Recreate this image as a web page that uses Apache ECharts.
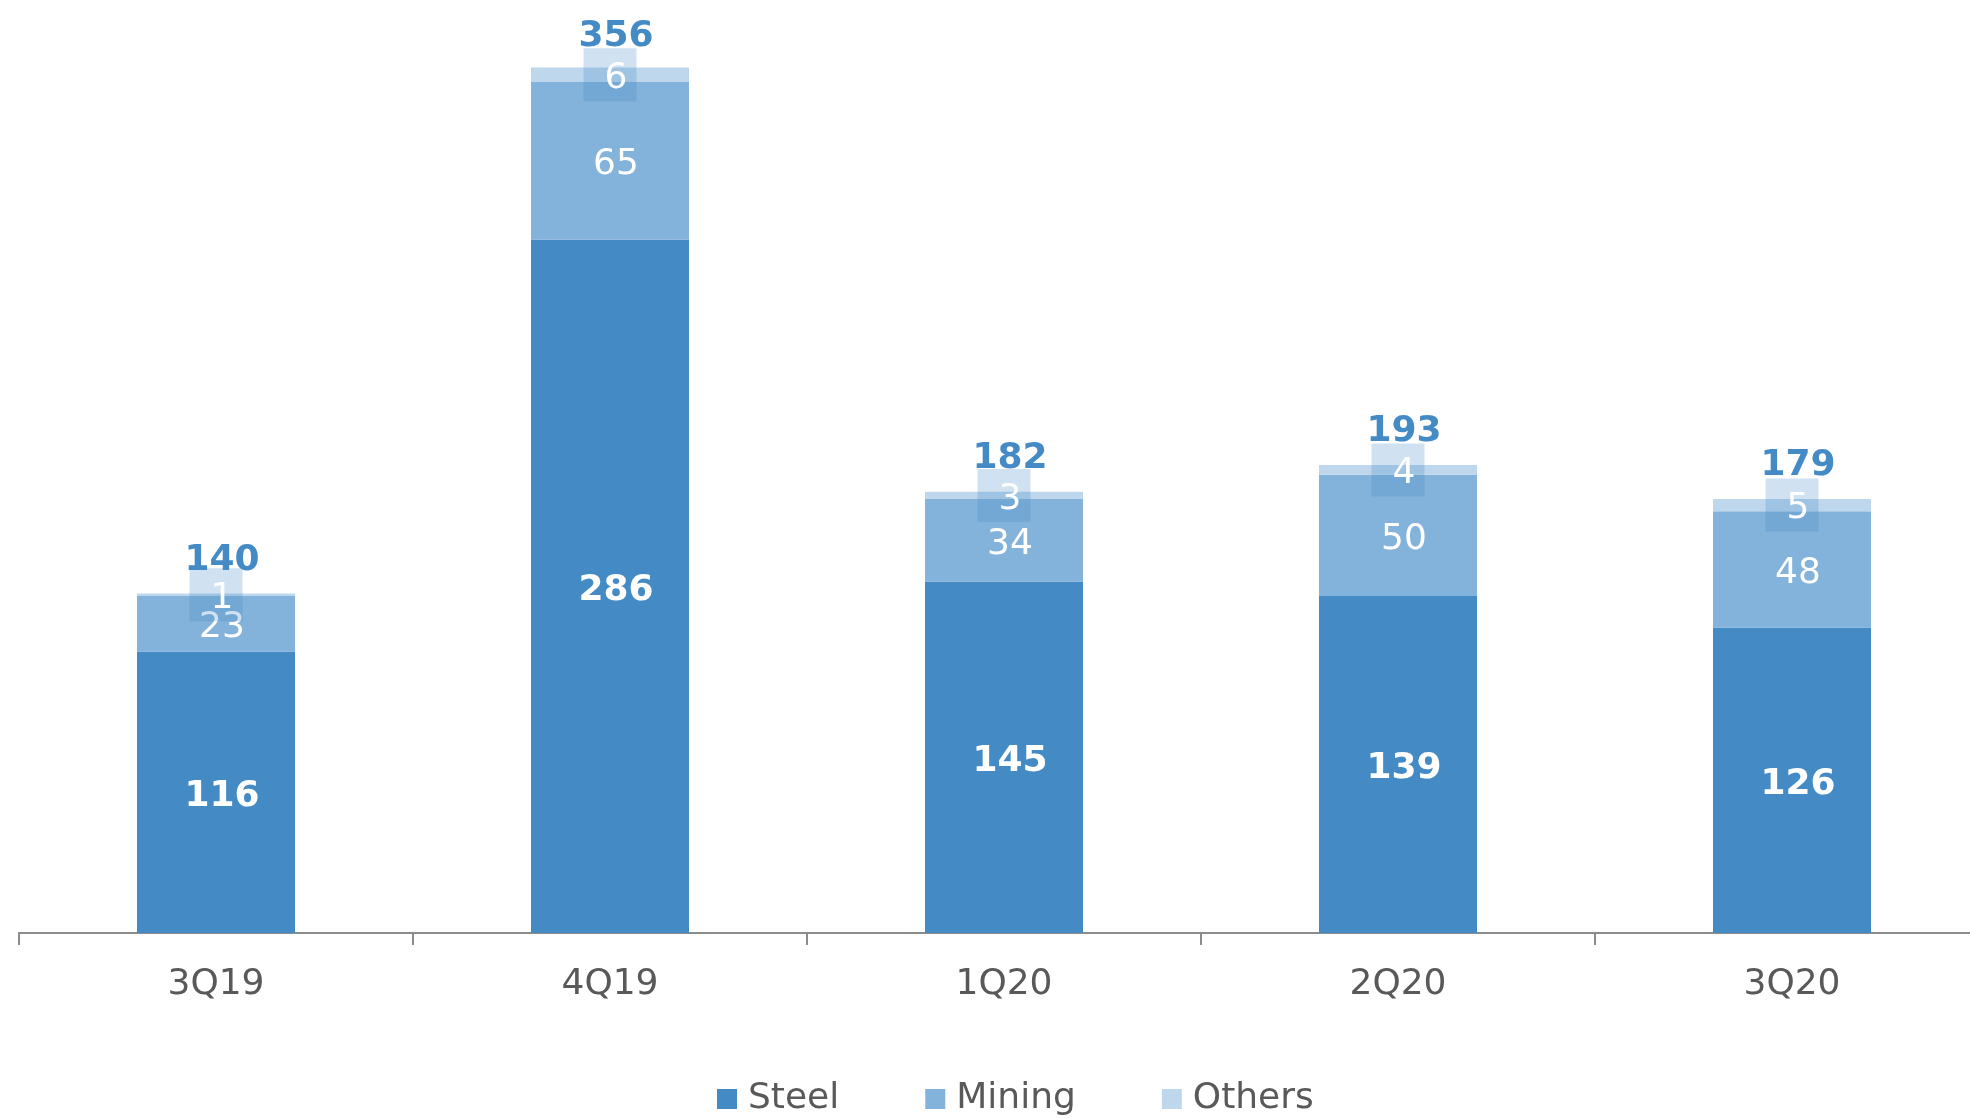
<!DOCTYPE html>
<html>
<head>
<meta charset="utf-8">
<script src="https://cdn.jsdelivr.net/npm/echarts@6/dist/echarts.min.js"></script>
<style>html,body{margin:0;padding:0;background:#fff;overflow:hidden}#c{width:1989px;height:1119px}</style>
</head>
<body>
<div id="c"></div>
<script>
const categories = ['3Q19', '4Q19', '1Q20', '2Q20', '3Q20'];
const steel = [116, 286, 145, 139, 126];
const mining = [23, 65, 34, 50, 48];
const others = [1, 6, 3, 4, 5];
const totals = [140, 356, 182, 193, 179];

const FONT = '"DejaVu Sans", Verdana, sans-serif';
const C_STEEL = '#448BC6', C_MINING = '#83B2DA', C_OTHERS = '#BED7EC';

const chart = echarts.init(document.getElementById('c'));
chart.setOption({
  animation: false,
  textStyle: { fontFamily: FONT },
  grid: { left: 19, right: 0, top: 36, bottom: 186 },
  legend: {
    left: 712, top: 1076,
    itemWidth: 20, itemHeight: 20, itemGap: 86,
    icon: 'rect',
    textStyle: { fontFamily: FONT, fontSize: 36, color: '#595959', padding: [0, 0, 0, 6] },
    data: ['Steel', 'Mining', 'Others']
  },
  xAxis: {
    type: 'category', data: categories,
    axisLine: { lineStyle: { color: '#8C8C8C', width: 2 } },
    axisTick: { show: true, length: 12, lineStyle: { color: '#8C8C8C', width: 2 } },
    axisLabel: { fontFamily: FONT, fontSize: 36, color: '#595959', margin: 34 }
  },
  yAxis: { type: 'value', min: 0, max: 370, show: false, splitLine: { show: false } },
  series: [
    { name: 'Steel', type: 'bar', stack: 's', barWidth: 158, data: steel,
      itemStyle: { color: C_STEEL },
      label: { show: true, position: 'inside', offset: [6, 4], color: '#fff', fontSize: 36, fontWeight: 'bold', fontFamily: FONT } },
    { name: 'Mining', type: 'bar', stack: 's', barWidth: 158, data: mining,
      itemStyle: { color: C_MINING },
      label: { show: true, position: 'inside', offset: [6, 4], color: '#fff', fontSize: 36, fontFamily: FONT } },
    { name: 'Others', type: 'bar', stack: 's', barWidth: 158, data: others,
      itemStyle: { color: C_OTHERS },
      label: { show: true, position: 'inside', fontFamily: FONT,
        formatter: '{gap| }\n{v|{c}}',
        backgroundColor: 'rgba(68,139,198,0.25)', width: 41,
        padding: [0, 0, 0, 12], align: 'center',
        rich: {
          gap: { fontSize: 4, lineHeight: 8, align: 'center' },
          v: { fontSize: 36, lineHeight: 45, color: '#fff', fontFamily: FONT, align: 'center' }
        } } },
    { name: 'Total', type: 'scatter', data: totals, symbolSize: 1,
      itemStyle: { color: 'rgba(0,0,0,0)', opacity: 1 },
      label: { show: true, position: 'inside', offset: [6, -33], color: C_STEEL, fontSize: 36, fontWeight: 'bold', fontFamily: FONT },
      z: 5 }
  ]
});
</script>
</body>
</html>
